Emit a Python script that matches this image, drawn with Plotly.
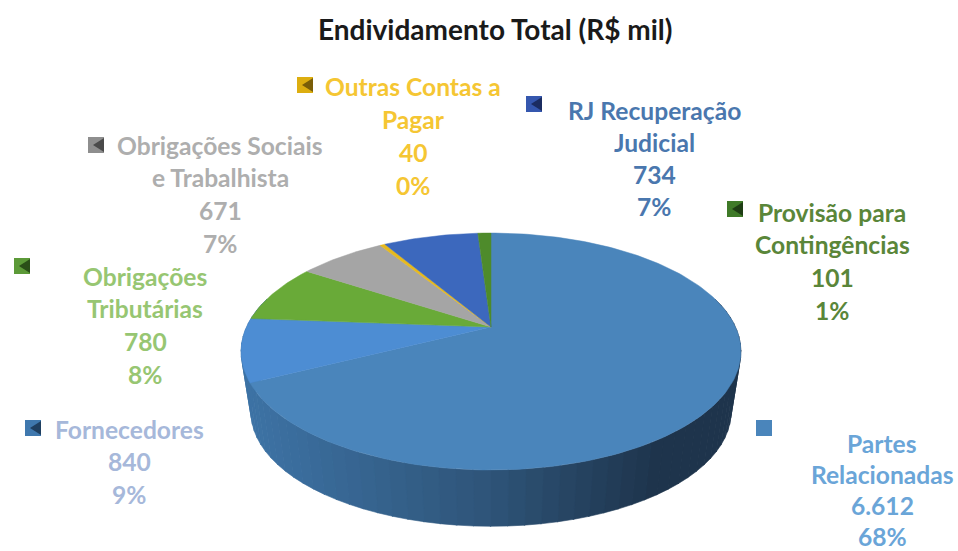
import math
import plotly.graph_objects as go

TITLE = "Endividamento Total (R$ mil)"
names = ["Partes Relacionadas", "Fornecedores", "Obrigações Tributárias",
         "Obrigações Sociais e Trabalhista", "Outras Contas a Pagar",
         "RJ Recuperação Judicial", "Provisão para Contingências"]
values = [6612, 840, 780, 671, 40, 734, 101]
value_labels = ["6.612", "840", "780", "671", "40", "734", "101"]
pct_labels = ["68%", "9%", "8%", "7%", "0%", "7%", "1%"]
label_lines = [["Partes", "Relacionadas"], ["Fornecedores"], ["Obrigações", "Tributárias"],
               ["Obrigações Sociais", "e Trabalhista"], ["Outras Contas a", "Pagar"],
               ["RJ Recuperação", "Judicial"], ["Provisão para", "Contingências"]]
slice_colors = ["#4A85BB", "#4D8DD3", "#69AA38", "#A5A5A5", "#E6B91E", "#3C68BD", "#4E8B2B"]
text_colors = ["#6AA5D8", "#A6B8DA", "#97C672", "#AEAEAE", "#F5C633", "#4A77AE", "#5A8639"]
swatch_colors = ["#4A85BB", "#3F78AE", "#5C9A38", "#8E8E8E", "#DDAE10", "#3557AE", "#3F7A28"]
swatch_dark = ["#4A85BB", "#1F3F60", "#2A4F18", "#4A4A4A", "#7A5E08", "#1B2C60", "#1E3D14"]

# label layout: centre x, first line y, line step, swatch centre
label_x = [882, 129, 145, 220, 413, 654, 832]
label_y = [443, 429, 276, 145, 86, 110, 212]
label_step = [31, 32.5, 32.7, 32.7, 33, 32.3, 32.7]
swatch_x = [764, 33, 22, 96, 305, 534, 735]
swatch_y = [428, 428, 266, 145, 85, 104, 209]

CX, CY, RX, RY, K = 491, 327, 244.5, 113.4, 0.207
DEPTH_Y, LOWER_SCALE = 62, 0.96


def project(theta, scale=1.0, dy=0.0):
    u, v = math.sin(theta), math.cos(theta)
    d = 1 + K * v
    return CX + scale * RX * u / d, CY + dy - scale * RY * v / d


def lerp_color(a, b, t):
    ca = [int(a[i:i + 2], 16) for i in (1, 3, 5)]
    cb = [int(b[i:i + 2], 16) for i in (1, 3, 5)]
    return "#%02x%02x%02x" % tuple(round(x + (y - x) * t) for x, y in zip(ca, cb))


fig = go.Figure()

# side wall of the disc
n_strips = 64
th0, th1 = math.radians(75), math.radians(285)
for i in range(n_strips):
    a = th0 + (th1 - th0) * i / n_strips
    b = th0 + (th1 - th0) * (i + 1.05) / n_strips
    xa, ya = project(a)
    xb, yb = project(b)
    xc, yc = project(b, LOWER_SCALE, DEPTH_Y)
    xd, yd = project(a, LOWER_SCALE, DEPTH_Y)
    t = max(0, min(1, ((xa + xb) / 2 - 250) / 480))
    col = lerp_color("#3D72A4", "#2E5478", min(t / 0.5, 1)) if t < 0.5 else \
        lerp_color("#2E5478", "#1E344C", min((t - 0.5) / 0.35, 1))
    fig.add_trace(go.Scatter(x=[xa, xb, xc, xd, xa], y=[ya, yb, yc, yd, ya], mode="lines",
                             fill="toself", fillcolor=col, line=dict(color=col, width=0.6),
                             hoverinfo="skip", showlegend=False))

# top face, one wedge per value
total = sum(values)
cum = 0
for name, val, col in zip(names, values, slice_colors):
    start = cum / total * 2 * math.pi
    cum += val
    end = cum / total * 2 * math.pi
    steps = max(3, int((end - start) / 0.02))
    pts = [project(start + (end - start) * j / steps) for j in range(steps + 1)]
    xs = [CX] + [p[0] for p in pts] + [CX]
    ys = [CY] + [p[1] for p in pts] + [CY]
    fig.add_trace(go.Scatter(x=xs, y=ys, mode="lines", fill="toself", fillcolor=col,
                             line=dict(color=col, width=0.5), name=name,
                             text=f"{name}: {val}", hoverinfo="text", showlegend=False))

ann = [dict(x=495, y=29, text=TITLE, showarrow=False, xanchor="center", yanchor="middle",
            font=dict(family="Lato", size=28, color="#1A1A1A", weight="bold"))]
shapes = []
for i in range(len(names)):
    lines = label_lines[i] + [value_labels[i], pct_labels[i]]
    for j, line in enumerate(lines):
        ann.append(dict(x=label_x[i], y=label_y[i] + j * label_step[i], text=line, showarrow=False,
                        xanchor="center", yanchor="middle",
                        font=dict(family="Lato", size=24.6, color=text_colors[i], weight="bold")))
    sx, sy = swatch_x[i], swatch_y[i]
    shapes.append(dict(type="rect", x0=sx - 8, x1=sx + 8, y0=sy - 8, y1=sy + 8,
                       fillcolor=swatch_colors[i], line=dict(width=0)))
    if i > 0:
        shapes.append(dict(type="path", fillcolor=swatch_dark[i], line=dict(width=0),
                           path=f"M{sx + 8},{sy - 7} L{sx - 3},{sy} L{sx + 8},{sy + 7} Z"))

fig.update_layout(
    width=958, height=551, margin=dict(l=0, r=0, t=0, b=0),
    paper_bgcolor="white", plot_bgcolor="white", showlegend=False,
    xaxis=dict(range=[0, 958], visible=False, fixedrange=True),
    yaxis=dict(range=[551, 0], visible=False, fixedrange=True),
    annotations=ann, shapes=shapes,
)
fig.write_html("out.html", config={"displayModeBar": False},
               post_script="document.body.style.margin='0';document.body.style.overflow='hidden';")
